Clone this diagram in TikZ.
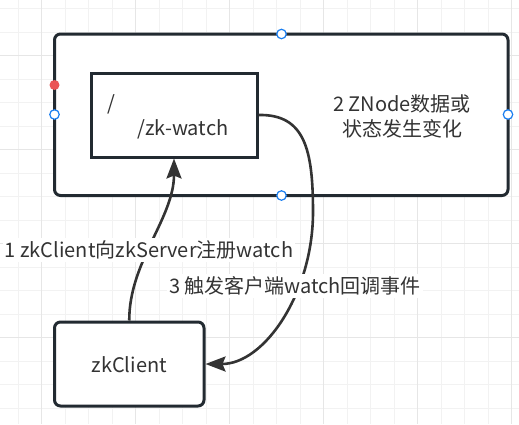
\documentclass[tikz,border=0pt]{standalone}
\usepackage{fontspec}
\setmainfont{Noto Sans CJK SC}
\usetikzlibrary{arrows.meta}
\definecolor{gridminor}{HTML}{F2F2F2}
\definecolor{gridmajor}{HTML}{E6E6E6}
\definecolor{boxline}{HTML}{222A31}
\definecolor{txt}{HTML}{333333}
\definecolor{handleblue}{HTML}{1A7EF0}
\definecolor{handlered}{HTML}{EA5455}
\tikzset{
  box/.style={draw=boxline, line width=3pt, fill=white, inner sep=0pt},
  lbl/.style={text=txt, font=\fontsize{20}{25}\selectfont, inner sep=0pt},
  edgelbl/.style={lbl, fill=white, inner xsep=2pt, inner ysep=3pt},
  conn/.style={draw=txt, line width=2.6pt, -{Stealth[length=20pt, width=15pt, inset=3pt]}},
  handle/.style={circle, draw=handleblue, fill=white, line width=1.2pt, minimum size=9.5pt, inner sep=0pt},
  redhandle/.style={circle, fill=handlered, minimum size=10pt, inner sep=0pt}
}
\begin{document}
\begin{tikzpicture}[x=1pt, y=-1pt]
\useasboundingbox (0,0) rectangle (519,424);
\fill[white] (0,0) rectangle (519,424);
% grid
\foreach \i in {0,...,21} {
  \draw[gridminor, line width=1pt] ({41.5+23.5*(\i-1)},0) -- ({41.5+23.5*(\i-1)},424);
}
\foreach \i in {0,...,18} {
  \draw[gridminor, line width=1pt] (0,{8.5+23.5*\i}) -- (519,{8.5+23.5*\i});
}
\foreach \x in {41.5,135.5,229.5,323.5,417.5,511.5} {
  \draw[gridmajor, line width=1.3pt] (\x,0) -- (\x,424);
}
\foreach \y in {55.5,149.5,243.5,337.5} {
  \draw[gridmajor, line width=1.3pt] (0,\y) -- (519,\y);
}
% outer container
\node[box, rounded corners=6pt, minimum width=453.5pt, minimum height=161.5pt] (outer) at (281.25,114.75) {};
% inner box
\node[box, minimum width=166pt, minimum height=84pt] (inner) at (174,115) {};
\node[lbl] (slash) at (111,104) {/};
\node[lbl] (zkw) at (183,129) {/zk-watch};
\node[lbl, align=center] (change) at (402,116.5) {2 ZNode数据或\\状态发生变化};
% zkClient box
\node[box, rounded corners=6pt, minimum width=149.5pt, minimum height=84pt] (zk) at (129.25,364) {};
\node[lbl] (zktxt) at (129.25,365) {zkClient};
% connectors
\coordinate (bend3) at (313,212);
\draw[conn] (zk.north) .. controls (129,262) and (174,218) .. (inner.south);
\draw[conn] (inner.east) .. controls (305,114) and (313,150) .. (bend3) .. controls (313,292) and (265,364) .. (zk.east);
% edge labels
\node[edgelbl] (l1) at (149,250) {1 zkClient向zkServer注册watch};
\node[edgelbl] (l3) at (295,286) {3 触发客户端watch回调事件};
% selection handles
\node[handle] (ht) at (281.5,34) {};
\node[handle] (hb) at (281.5,195.5) {};
\node[handle] (hl) at (54.5,114.5) {};
\node[handle] (hr) at (508,114.5) {};
\node[redhandle] (hred) at (54.5,85) {};
\end{tikzpicture}
\end{document}
